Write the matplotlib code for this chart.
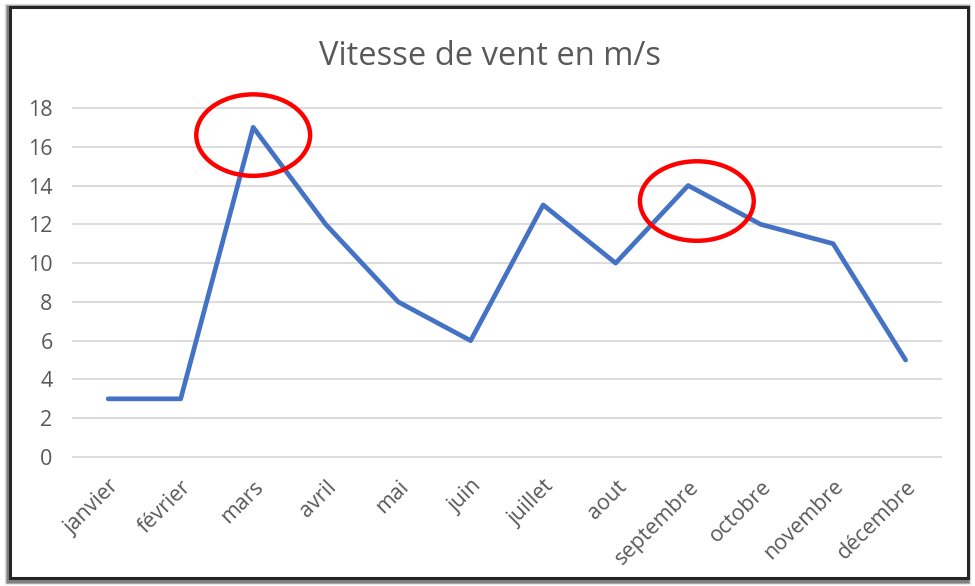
import matplotlib.pyplot as plt
from matplotlib.patches import Ellipse, Rectangle

plt.rcParams['font.family'] = ['Open Sans', 'DejaVu Sans']

# Monthly wind speed (m/s)
mois = ['janvier', 'février', 'mars', 'avril', 'mai', 'juin', 'juillet',
        'aout', 'septembre', 'octobre', 'novembre', 'décembre']
vitesse = [3, 3, 17, 12, 8, 6, 13, 10, 14, 12, 11, 5]
y_ticks = [0, 2, 4, 6, 8, 10, 12, 14, 16, 18]

# highlighted peaks: (month index, centre y, width, height)
pics = [(2, 16.6, 1.57, 4.2), (8.12, 13.2, 1.57, 4.1)]

fig = plt.figure(figsize=(9.75, 5.86), dpi=100)

# chart frame with a soft shadow
for i, c in enumerate(['#e6e6e6', '#b3b3b3', '#808080']):
    fig.patches.append(Rectangle((0.006 + i * 0.001, 0.006 + i * 0.0015),
                                 0.988 - i * 0.002, 0.985 - i * 0.003,
                                 transform=fig.transFigure, fill=False,
                                 edgecolor=c, linewidth=2.5, zorder=0))
fig.patches.append(Rectangle((0.0105, 0.013), 0.982, 0.975,
                             transform=fig.transFigure, fill=True,
                             facecolor='white', edgecolor='#262626',
                             linewidth=2.2, zorder=1))

ax = fig.add_axes([0.0738, 0.2135, 0.8922, 0.6089])
ax.set_zorder(2)
ax.patch.set_visible(False)

x = list(range(len(mois)))
ax.plot(x, vitesse, color='#4472C4', linewidth=3.4, solid_joinstyle='round',
        solid_capstyle='round', zorder=3)

for cx, cy, w, h in pics:
    ax.add_patch(Ellipse((cx, cy), w, h, fill=False, edgecolor='#FF0000',
                         linewidth=3.2, zorder=4, clip_on=False))

ax.set_xlim(-0.5, len(mois) - 0.5)
ax.set_ylim(-0.2, 18.2)
ax.set_yticks(y_ticks)
ax.set_xticks(x)
ax.set_xticklabels(mois, rotation=45, ha='right', rotation_mode='anchor')
ax.tick_params(axis='both', length=0, labelsize=15.5, colors='#595959')
ax.tick_params(axis='y', pad=14)
ax.tick_params(axis='x', pad=11)
ax.grid(axis='y', color='#D9D9D9', linewidth=1.3)
ax.set_axisbelow(True)
for s in ax.spines.values():
    s.set_visible(False)

fig.text(0.503, 0.903, 'Vitesse de vent en m/s', ha='center', va='center',
         fontsize=23.5, color='#595959')

plt.savefig('out.png', dpi=100)
